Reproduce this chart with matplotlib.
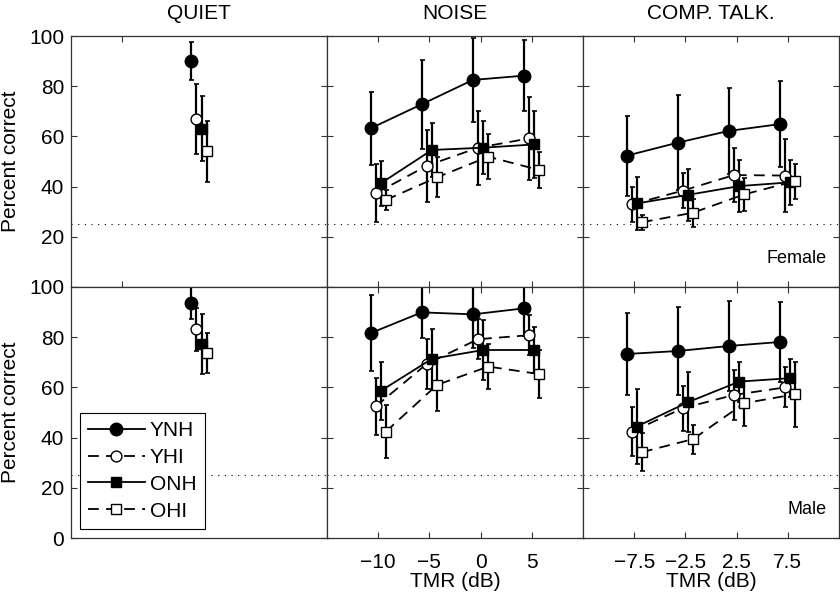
import numpy as np
import matplotlib.pyplot as plt

plt.rcParams['font.family'] = ['Liberation Sans', 'DejaVu Sans']

groups = ["YNH", "YHI", "ONH", "OHI"]
offsets = [-0.75, -0.25, 0.25, 0.75]

noise_tmr = [-10, -5, 0, 5]
comp_tmr = [-7.5, -2.5, 2.5, 7.5]

# quiet: one value per group
quiet_f = [90, 67, 63, 54]
quiet_f_err = [7.5, 14, 13, 12]
quiet_m = [93.8, 83.2, 77.3, 73.6]
quiet_m_err = [6.5, 8.5, 12, 8]

# noise, female talker
noise_f = [[63.2, 72.8, 82.5, 84.2],
           [37.3, 48.3, 55.5, 59.2],
           [41.3, 54.6, 55.5, 56.8],
           [34.7, 43.7, 51.9, 46.6]]
noise_f_err = [[14.5, 17.8, 16.7, 14.2],
               [11.6, 14.4, 14.7, 16.4],
               [9, 10.6, 10.6, 13.3],
               [4, 8, 9, 7.3]]

# noise, male talker
noise_m = [[81.6, 89.9, 89.1, 91.5],
           [52.4, 69.4, 79.2, 80.8],
           [58.6, 71.4, 74.9, 74.9],
           [42.4, 61, 68.3, 65.3]]
noise_m_err = [[15.2, 10.3, 13.5, 11],
               [11.5, 10, 8, 8],
               [11.5, 12, 12, 9],
               [10.6, 10.6, 9, 9.6]]

# competing talker, female
comp_f = [[52.3, 57.5, 62.2, 64.9],
          [32.9, 38.4, 44.6, 44.4],
          [33.3, 36.7, 40.2, 41.7],
          [25.8, 29.6, 36.9, 42.2]]
comp_f_err = [[16, 19, 17, 17],
              [7, 7, 10.6, 14.4],
              [10.6, 10.3, 10.4, 9],
              [3, 5.6, 6.7, 7]]

# competing talker, male
comp_m = [[73.3, 74.5, 76.5, 78.1],
          [42.4, 51.7, 57, 60],
          [44.4, 54.1, 62.3, 63.7],
          [34.2, 39.4, 53.7, 57.3]]
comp_m_err = [[16.5, 17.7, 18, 16],
              [9.7, 9, 10, 8],
              [15, 12, 8, 7.5],
              [7.6, 5.8, 9, 13]]

chance = 25

styles = [dict(marker='o', mfc='k', ms=9, ls='-'),
          dict(marker='o', mfc='w', ms=7.8, ls=(0, (6, 4))),
          dict(marker='s', mfc='k', ms=7.2, ls='-'),
          dict(marker='s', mfc='w', ms=6.6, ls=(0, (6, 4)))]

fs = 15

fig = plt.figure(figsize=(8.4, 5.93), dpi=100)
W, H = 840, 593
pw, ph = 256, 251
lefts = [71, 327, 583]
tops = [36, 287]

axes = {}
for r in range(2):
    for c in range(3):
        ax = fig.add_axes([lefts[c] / W, 1 - (tops[r] + ph) / H, pw / W, ph / H])
        axes[r, c] = ax


def draw(ax, xs, vals, errs, with_label=False):
    for g in range(4):
        x = np.array(xs, dtype=float) + offsets[g]
        y = np.atleast_1d(vals[g])
        e = np.atleast_1d(errs[g])
        ax.errorbar(x, y, yerr=e, fmt='none', ecolor='k', elinewidth=1.6,
                    capsize=1.8, capthick=1.2, zorder=2)
        st = styles[g]
        ax.plot(x, y, color='k', lw=1.3, ls=st['ls'], marker=st['marker'],
                ms=st['ms'], mfc=st['mfc'], mec='k', mew=1.0, zorder=3,
                label=groups[g] if with_label else None)


for r in range(2):
    qv = quiet_f if r == 0 else quiet_m
    qe = quiet_f_err if r == 0 else quiet_m_err
    draw(axes[r, 0], [0], [[v] for v in qv], [[v] for v in qe], with_label=(r == 1))
    draw(axes[r, 1], noise_tmr, noise_f if r == 0 else noise_m,
         noise_f_err if r == 0 else noise_m_err)
    draw(axes[r, 2], comp_tmr, comp_f if r == 0 else comp_m,
         comp_f_err if r == 0 else comp_m_err)

xlims = [(-12.5, 12.5), (-15, 10), (-12.5, 12.5)]
for (r, c), ax in axes.items():
    ax.set_xlim(*xlims[c])
    ax.set_ylim(0, 100)
    ax.axhline(chance, color='k', lw=0.8, ls=(0, (1, 5)), zorder=1)
    ax.tick_params(direction='in', top=True, right=True, length=4,
                   width=0.8, color='#333333', labelsize=fs)
    ax.tick_params(axis='x', pad=11)
    ax.tick_params(axis='y', pad=5)
    for s in ax.spines.values():
        s.set_color('#333333')
        s.set_linewidth(0.9)
    ax.set_yticks([0, 20, 40, 60, 80, 100])
    if c == 0:
        if r == 0:
            ax.set_yticklabels(['', '20', '40', '60', '80', '100'])
        ax.set_ylabel('Percent correct', fontsize=fs)
        ax.yaxis.set_label_coords(-0.2, 0.5)
    else:
        ax.set_yticklabels([])
    if c == 0:
        ax.set_xticks([-7.5] if r == 0 else [])
        ax.set_xticklabels([])
    elif c == 1:
        ax.set_xticks(noise_tmr)
    else:
        ax.set_xticks(comp_tmr)
    if c > 0:
        if r == 0:
            ax.set_xticklabels([])
        else:
            ticks = noise_tmr if c == 1 else comp_tmr
            ax.set_xticklabels([str(v).replace('-', '\u2212') for v in ticks])
            ax.set_xlabel('TMR (dB)', fontsize=fs, labelpad=0)

axes[0, 0].set_title('QUIET', fontsize=fs, pad=12)
axes[0, 1].set_title('NOISE', fontsize=fs, pad=12)
axes[0, 2].set_title('COMP. TALK.', fontsize=fs, pad=12)

axes[0, 2].text(0.95, 0.08, 'Female', transform=axes[0, 2].transAxes,
                ha='right', va='bottom', fontsize=13)
axes[1, 2].text(0.95, 0.08, 'Male', transform=axes[1, 2].transAxes,
                ha='right', va='bottom', fontsize=13)

leg = axes[1, 0].legend(loc='lower left', bbox_to_anchor=(0.035, 0.036),
                        borderaxespad=0, fontsize=fs, fancybox=False,
                        edgecolor='k', framealpha=1, handlelength=2.7,
                        labelspacing=0.38, handletextpad=0.25,
                        borderpad=0.4)
leg.get_frame().set_linewidth(0.8)

fig.savefig('out.png', dpi=100)
